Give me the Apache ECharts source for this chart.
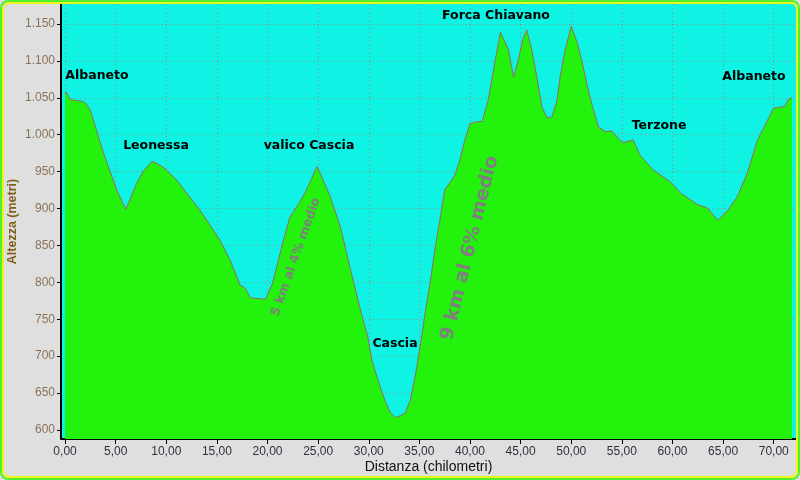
<!DOCTYPE html>
<html>
<head>
<meta charset="utf-8">
<script src="https://cdn.jsdelivr.net/npm/echarts@6/dist/echarts.min.js"></script>
<style>
html,body{margin:0;padding:0;background:#dfdfdf;}
#chart{width:800px;height:480px;}
</style>
</head>
<body>
<div id="chart"></div>
<script>
// Distance (km)
const distanceKm = [0.0,0.1,0.5,1.0,1.5,2.0,2.5,3.1,3.8,4.4,5.1,6.0,6.5,7.1,7.7,8.6,9.7,11.0,12.0,13.3,14.3,15.3,16.3,17.3,17.8,18.3,19.8,20.5,21.5,22.2,23.2,23.7,24.9,26.2,27.2,28.2,29.1,29.9,30.3,30.9,31.6,32.1,32.6,33.1,33.6,34.1,34.6,35.1,35.6,36.1,36.6,37.1,37.5,38.5,39.0,39.5,40.0,40.5,41.2,41.8,42.5,43.0,43.8,44.3,44.7,45.2,45.6,46.1,46.6,47.1,47.6,48.1,48.6,48.9,49.4,50.0,50.6,51.1,51.6,52.1,52.7,53.4,54.0,54.5,55.1,56.1,56.8,58.1,59.8,60.8,62.5,63.4,64.5,65.5,66.4,67.4,68.4,70.0,71.1,71.4,71.8];
// Altitude (m)
const altitudeM = [1055,1058,1048,1046,1046,1043,1033,1006,975,952,925,899,915,935,950,964,956,939,921,898,878,857,830,796,792,779,777,799,853,888,909,921,957,916,875,817,767,726,695,668,640,624,617,619,623,640,674,715,762,803,850,891,925,945,966,993,1015,1017,1018,1047,1101,1139,1115,1078,1097,1128,1142,1115,1078,1038,1023,1024,1047,1078,1115,1147,1124,1097,1065,1038,1010,1004,1005,997,989,993,972,952,936,921,905,901,884,898,916,948,993,1036,1038,1047,1050];
// Tick values
const xTicks = [0,5,10,15,20,25,30,35,40,45,50,55,60,65,70];
const yTicks = [600,650,700,750,800,850,900,950,1000,1050,1100,1150];
// Place names
const places = ['Albaneto','Leonessa','valico Cascia','Cascia','Forca Chiavano','Terzone','Albaneto'];
const slopeNotes = ['5 km al 4% medio','9 km al 6% medio'];

const chart = echarts.init(document.getElementById('chart'), null, {renderer:'canvas'});
const pts = distanceKm.map((d,i)=>[d, altitudeM[i]]);
const placePos = [[97,76],[156,146],[309,146],[395,344],[496,16],[659,126],[754,77]];

const placeFont = 'bold 12.5px "DejaVu Sans", sans-serif';
const graphics = [
  {type:'rect', z:-10, silent:true, shape:{x:61,y:4,width:735,height:435}, style:{fill:'#0ef3e3'}},
  {type:'rect', z:100, silent:true, shape:{x:1,y:1,width:798,height:478,r:7}, style:{fill:null,stroke:'#50f030',lineWidth:2}},
  {type:'rect', z:100, silent:true, shape:{x:3,y:3,width:794,height:474,r:6}, style:{fill:null,stroke:'#e6f51a',lineWidth:2}}
];
places.forEach((p,i)=>{
  graphics.push({type:'text', z:50, x:placePos[i][0], y:placePos[i][1],
    style:{text:p, font:placeFont, fill:'#000000', align:'center', verticalAlign:'middle'}});
});
graphics.push({type:'text', z:50, x:296, y:257, rotation:70.4*Math.PI/180,
  style:{text:slopeNotes[0], font:'bold 12.5px "DejaVu Sans", sans-serif', fill:'#7f7f7f', align:'center', verticalAlign:'middle'}});
graphics.push({type:'text', z:50, x:470, y:248, rotation:76*Math.PI/180,
  style:{text:slopeNotes[1], font:'bold 19px "DejaVu Sans", sans-serif', fill:'#7f7f7f', align:'center', verticalAlign:'middle'}});

const gridLine = {show:true, lineStyle:{color:'#a08878', type:[1,3], width:1}};

chart.setOption({
  animation:false,
  backgroundColor:'#dfdfdf',
  grid:{left:61, right:4, top:4, bottom:41, containLabel:false, outerBoundsMode:'none'},
  xAxis:{
    type:'value', min:-0.4, max:72.2,
    name:'Distanza (chilometri)', nameLocation:'middle', nameGap:21, nameMoveOverlap:false,
    nameTextStyle:{color:'#101010', fontSize:14, fontFamily:'"Liberation Sans", sans-serif'},
    axisLine:{show:true, onZero:false, lineStyle:{color:'#000', width:2}},
    axisTick:{show:true, length:5, customValues:xTicks, lineStyle:{color:'#000'}},
    axisLabel:{customValues:xTicks, color:'#303040', fontSize:12, fontFamily:'"Liberation Sans", sans-serif', margin:7,
      formatter:v=>v.toFixed(2).replace('.',',')},
    splitLine:gridLine
  },
  yAxis:{
    type:'value', min:587.8, max:1177,
    name:'Altezza (metri)', nameLocation:'middle', nameGap:42, nameMoveOverlap:false,
    nameTextStyle:{color:'#806018', fontSize:12.5, fontWeight:'bold', fontFamily:'"Liberation Sans", sans-serif'},
    axisLine:{show:true, onZero:false, lineStyle:{color:'#000', width:2}},
    axisTick:{show:true, length:4, customValues:yTicks, lineStyle:{color:'#000'}},
    axisLabel:{customValues:yTicks, color:'#8a7458', fontSize:12, fontFamily:'"Liberation Sans", sans-serif', margin:6,
      formatter:v=> v>=1000 ? Math.floor(v/1000)+'.'+String(v%1000).padStart(3,'0') : String(v)},
    splitLine:gridLine
  },
  graphic:graphics,
  series:[{
    type:'line', data:pts, showSymbol:false, smooth:false,
    lineStyle:{color:'#9a6a5a', width:1},
    areaStyle:{color:'#22f20c', opacity:1, origin:'start'},
    z:2
  }]
});
</script>
</body>
</html>
